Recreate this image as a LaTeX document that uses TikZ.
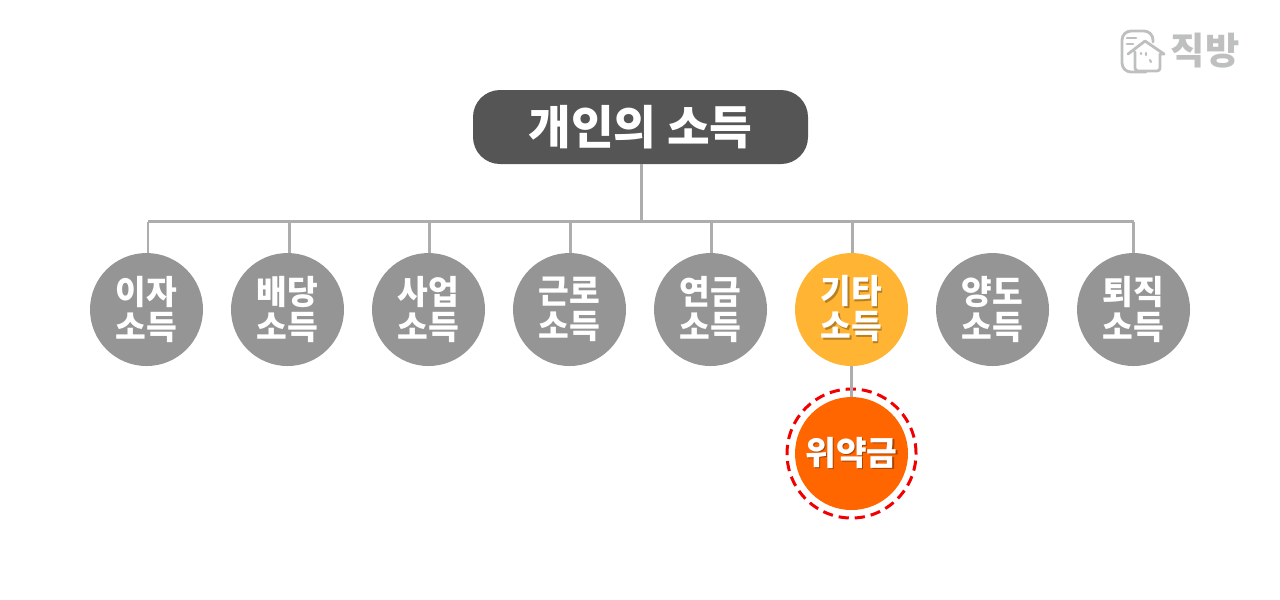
\documentclass[tikz,border=0pt]{standalone}
\usepackage{fontspec}
\setmainfont{Noto Sans CJK KR}[BoldFont={Noto Sans CJK KR Black}]
\usetikzlibrary{positioning}
\definecolor{wiregray}{HTML}{ADADAD}
\definecolor{circlegray}{HTML}{959595}
\definecolor{titlegray}{HTML}{555555}
\definecolor{logogray}{HTML}{BEC0C0}
\definecolor{amber}{HTML}{FFB433}
\definecolor{amberdark}{HTML}{B87F20}
\definecolor{deeporange}{HTML}{FF6600}
\definecolor{orangedark}{HTML}{A84300}
\newcommand{\shadowed}[2]{\leavevmode\rlap{\kern.4pt\raisebox{-.4pt}{\textcolor{#1}{#2}}}#2}
\tikzset{
  income/.style={circle,fill=circlegray,text=white,minimum size=1.13cm,inner sep=0pt,outer sep=0pt,align=center,font=\fontsize{9.5}{9.9}\selectfont\bfseries},
  wire/.style={draw=wiregray,line width=.85pt},
  logoline/.style={draw=logogray,line width=.8pt,line cap=round,line join=round}
}
\begin{document}
\begin{tikzpicture}
\useasboundingbox (0,0) rectangle (12.8,-5.99);
\node (title) [fill=titlegray,text=white,rounded corners=.27cm,minimum width=3.35cm,minimum height=.74cm,inner sep=0pt,outer sep=0pt,font=\fontsize{13.2}{13.2}\selectfont\bfseries] at (6.405,-1.27) {개인의 소득};
\node (interest) [income] at (1.465,-3.095) {이자\\소득};
\node (dividend) [income,right=.28cm of interest] {배당\\소득};
\node (business) [income,right=.28cm of dividend] {사업\\소득};
\node (wage) [income,right=.28cm of business] {근로\\소득};
\node (pension) [income,right=.28cm of wage] {연금\\소득};
\node (other) [income,fill=amber,right=.28cm of pension] {\shadowed{amberdark}{기타}\\\shadowed{amberdark}{소득}};
\node (transfer) [income,right=.28cm of other] {양도\\소득};
\node (retire) [income,right=.28cm of transfer] {퇴직\\소득};
\node (penalty) [income,fill=deeporange,below=.31cm of other] {\shadowed{orangedark}{위약금}};
\node (ring) [circle,draw=red!95!black,line width=.85pt,dash pattern=on 2.9pt off 1.7pt,minimum size=1.29cm,inner sep=0pt] at (penalty.center) {};
\coordinate (bus) at ([xshift=.005cm]title.south |- 0,-2.215);
\coordinate (busleft) at ([xshift=.015cm]interest.north |- bus);
\coordinate (busright) at (retire.north |- bus);
\draw[wire] ([xshift=.005cm]title.south)--(bus);
\draw[wire] (busleft)--(busright);
\foreach \n/\s in {interest/.015,dividend/.015,business/.005,wage/.005,pension/.005,other/.005,retire/0}
  \draw[wire] ([xshift=\s cm]\n.north)--([xshift=\s cm]\n.north |- bus);
\draw[wire] (other.south)--(penalty.north);
% logo
\draw[logoline] (11.46,-.72)--(11.31,-.72) arc (270:180:.09)--(11.22,-.40) arc (180:90:.09)--(11.44,-.31) arc (90:0:.09)--(11.53,-.42);
\draw[logoline] (11.27,-.38)--(11.36,-.38) (11.27,-.44)--(11.33,-.44);
\draw[logoline] (11.28,-.54)--(11.45,-.41)--(11.64,-.54)--(11.60,-.54)--(11.60,-.68) arc (0:-90:.03)--(11.38,-.71) arc (270:180:.03)--(11.35,-.52);
\draw[logoline,line width=.6pt] (11.41,-.53)--(11.41,-.54) (11.46,-.53)--(11.46,-.55) (11.50,-.60)--(11.51,-.62);
\node (logo) [text=logogray,inner sep=0pt,font=\fontsize{10.6}{10.6}\selectfont\bfseries] at (12.05,-.51) {직방};
\end{tikzpicture}
\end{document}
